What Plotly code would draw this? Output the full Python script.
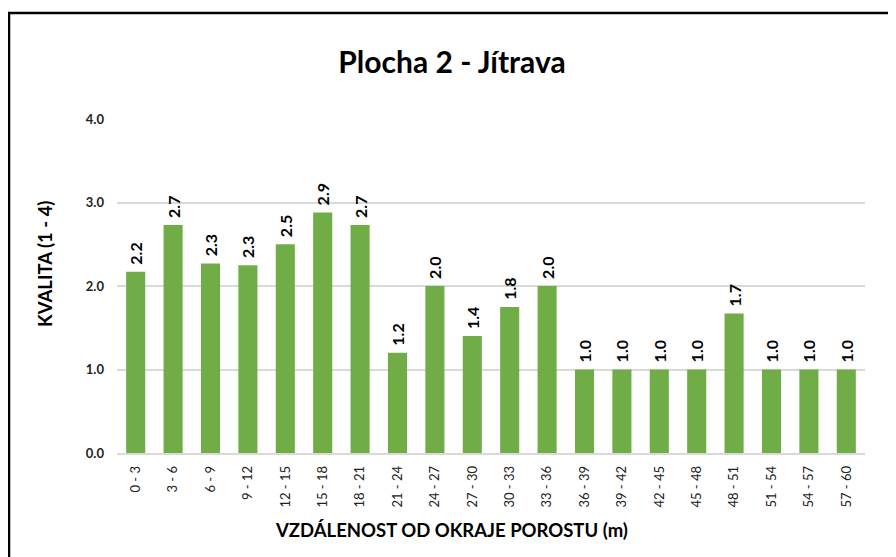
import plotly.graph_objects as go

categories = ["0 - 3", "3 - 6", "6 - 9", "9 - 12", "12 - 15", "15 - 18", "18 - 21",
              "21 - 24", "24 - 27", "27 - 30", "30 - 33", "33 - 36", "36 - 39",
              "39 - 42", "42 - 45", "45 - 48", "48 - 51", "51 - 54", "54 - 57", "57 - 60"]
values = [2.17, 2.73, 2.27, 2.25, 2.5, 2.88, 2.73, 1.2, 2.0, 1.4, 1.75, 2.0,
          1.0, 1.0, 1.0, 1.0, 1.67, 1.0, 1.0, 1.0]
y_ticks = [0, 1, 2, 3, 4]

OFF = 8  # page body margin
W, H = 896 - OFF, 557 - OFF
L, T = 117 - OFF, 119 - OFF
R = W - (865 - OFF)
B = H - (453 - OFF)
pw, ph = W - L - R, H - T - B


def px(x):
    return (x - OFF - L) / pw


def py(y):
    return (H - B - (y - OFF)) / ph


FONT = "Lato, 'Open Sans', sans-serif"

fig = go.Figure(go.Bar(
    x=categories, y=values,
    marker=dict(color="#70ad47", line=dict(width=0)),
    texttemplate=" <b>%{y:.1f}</b>",
    textposition="outside", textangle=-90, constraintext="none",
    textfont=dict(family=FONT, size=16, color="#000000"),
    cliponaxis=False,
))

fig.update_layout(
    width=W, height=H,
    margin=dict(l=L, r=R, t=T, b=B, autoexpand=False),
    paper_bgcolor="white", plot_bgcolor="white",
    bargap=0.49, showlegend=False,
    font=dict(family=FONT, color="#000000"),
    title=dict(text="<b>Plocha 2 - Jítrava</b>", x=(452 - OFF) / W, xanchor="center",
               y=1 - (62 - OFF) / H, yanchor="middle",
               font=dict(family=FONT, size=30, color="#000000")),
)
fig.update_yaxes(
    range=[0, 4], tickvals=y_ticks, tickformat=".1f",
    showgrid=True, gridcolor="#d9d9d9", gridwidth=1.5,
    zeroline=False, showline=False,
    tickfont=dict(family=FONT, size=13, color="#222222", weight="bold"),
    ticklabelstandoff=12,
)
fig.update_xaxes(
    tickangle=-90, showline=True, linecolor="#d9d9d9", linewidth=1.5,
    tickfont=dict(family=FONT, size=13, color="#222222"),
    ticks="", ticklabelstandoff=6,
)
fig.add_annotation(text="<b>KVALITA (1 - 4)</b>", xref="paper", yref="paper",
                   x=px(45), y=py(264), textangle=-90, showarrow=False,
                   font=dict(family=FONT, size=18.5, color="#000000"),
                   xanchor="center", yanchor="middle")
fig.add_annotation(text="<b>VZDÁLENOST OD OKRAJE POROSTU (m)</b>", xref="paper", yref="paper",
                   x=px(451), y=py(530), showarrow=False,
                   font=dict(family=FONT, size=18.5, color="#000000"),
                   xanchor="center", yanchor="middle")
fig.add_shape(type="rect", xref="paper", yref="paper",
              x0=px(9), x1=px(920), y0=py(580), y1=py(13),
              line=dict(color="#000000", width=2.5), fillcolor="rgba(0,0,0,0)")

fig.write_html("out.html")
